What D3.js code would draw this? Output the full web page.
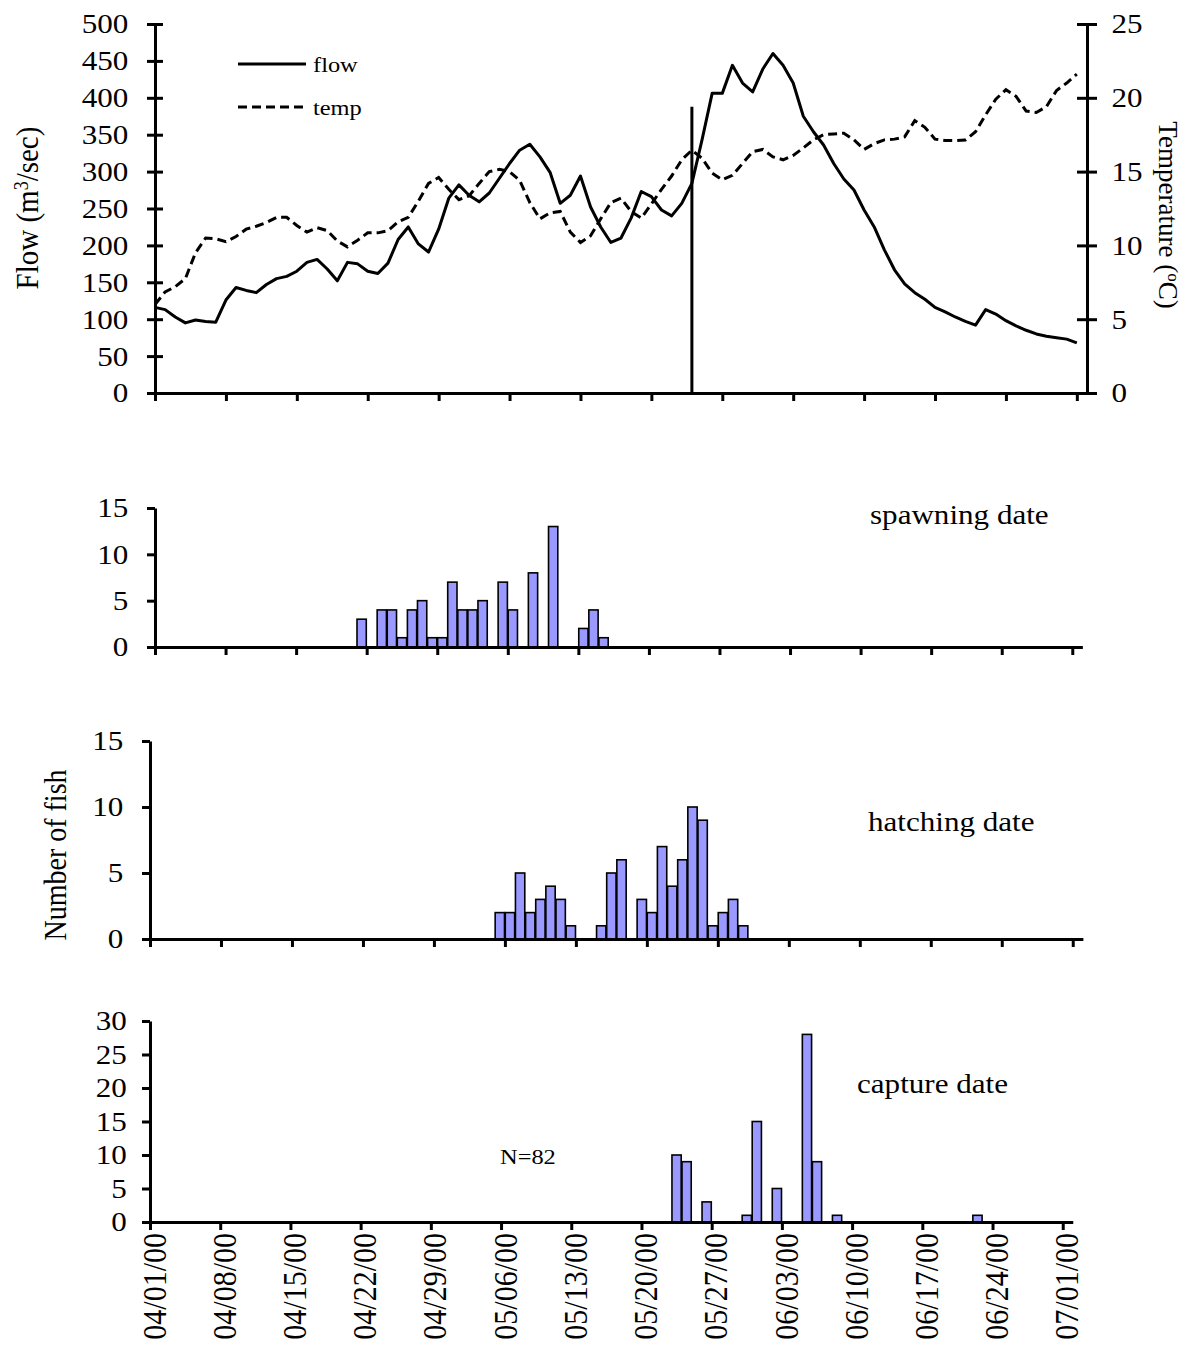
<!DOCTYPE html>
<html>
<head>
<meta charset="utf-8">
<script src="https://cdnjs.cloudflare.com/ajax/libs/d3/7.8.5/d3.min.js"></script>
<style>
  body { margin: 0; background: #fff; }
  text { font-family: "Liberation Serif", "Times New Roman", serif; fill: #000; }
  .axis path, .axis line { stroke: #000; stroke-width: 3; }
</style>
</head>
<body>
<svg id="chart" width="1186" height="1346"></svg>
<script>
// daily values 04/01/00 .. 07/01/00
var flowValues = [116,113,103,95,99,97,96,126,143,139,136,147,155,158,165,177,181,168,152,177,
                  175,165,162,176,208,225,202,191,222,264,282,268,259,271,291,311,329,337,320,299,
                  257,268,294,252,225,204,210,237,273,266,248,240,257,284,343,406,406,444,420,408,
                  439,460,444,420,375,354,336,311,290,275,248,225,194,167,148,136,127,116,110,103,
                  97,92,113,107,98,91,85,80,77,75,73,68];
var tempValues = [6.0,6.85,7.2,7.75,9.5,10.5,10.45,10.25,10.6,11.1,11.3,11.55,11.9,11.9,11.35,10.9,11.2,11.0,10.3,9.9,
                  10.35,10.85,10.85,11.0,11.6,11.9,13.0,14.2,14.6,13.8,13.1,13.35,14.2,15.0,15.15,15.0,14.4,12.9,11.8,12.2,
                  12.3,10.9,10.2,10.65,11.8,12.9,13.2,12.3,11.85,12.8,13.8,14.7,15.8,16.45,15.9,14.9,14.45,14.75,15.55,16.35,
                  16.5,16.0,15.8,16.1,16.6,17.15,17.5,17.55,17.6,17.15,16.5,16.9,17.15,17.2,17.35,18.45,18.0,17.2,17.1,17.1,
                  17.14,17.7,18.85,19.9,20.55,20.1,19.1,19.0,19.4,20.5,21.0,21.6];
var markerDate = "05/24";
var markerFlow = 388;

var spawnDates  = ["04/21","04/23","04/24","04/25","04/26","04/27","04/28","04/29","04/30","05/01",
                   "05/02","05/03","05/05","05/06","05/08","05/10","05/13","05/14","05/15"];
var spawnCounts = [3,4,4,1,4,5,1,1,7,4,4,5,7,4,8,13,2,4,1];

var hatchDates  = ["05/05","05/06","05/07","05/08","05/09","05/10","05/11","05/12","05/15","05/16","05/17",
                   "05/19","05/20","05/21","05/22","05/23","05/24","05/25","05/26","05/27","05/28","05/29"];
var hatchCounts = [2,2,5,2,3,4,3,1,1,5,6,3,2,7,4,6,10,9,1,2,3,1];

var captureDates  = ["05/23","05/24","05/26","05/30","05/31","06/02","06/05","06/06","06/08","06/22"];
var captureCounts = [10,9,3,1,15,5,28,9,1,1];

var tickLabels = ["04/01/00","04/08/00","04/15/00","04/22/00","04/29/00","05/06/00","05/13/00",
                  "05/20/00","05/27/00","06/03/00","06/10/00","06/17/00","06/24/00","07/01/00"];

var SX = 1.11;   // picture text is a bit wider than tall
var FS = 28;
var parse = d3.timeParse("%m/%d/%y");
var parseMD = function(s) { return parse(s + "/00"); };
var day0 = parse("04/01/00"), dayEnd = parse("07/02/00");
var days = d3.timeDay.range(day0, dayEnd);
var tickDates = tickLabels.map(function(s) { return parse(s); });

var svg = d3.select("#chart");

function stext(g, x, y, str, opt) {
  opt = opt || {};
  var sx = opt.noStretch ? 1 : SX;
  var t = g.append("g")
      .attr("transform", "translate(" + x + "," + y + ") scale(" + sx + ",1)" + (opt.rot ? " rotate(" + opt.rot + ")" : ""))
    .append("text")
      .attr("text-anchor", opt.anchor || "start")
      .attr("font-size", opt.size || FS)
      .attr("dy", opt.dy || 0)
      .text(str);
  return t;
}

function styleTicks(g) {
  g.selectAll("text").attr("font-size", FS).attr("transform", "scale(" + SX + ",1)");
}

// ---------- top panel: flow and temperature ----------
var xTop = d3.scaleTime().domain([day0, dayEnd]).range([155, 155 + 92 * 10.13]);
var yFlow = d3.scaleLinear().domain([0, 500]).range([393, 24]);
var yTemp = d3.scaleLinear().domain([0, 25]).range([393, 24]);

var gTop = svg.append("g");

gTop.append("g").attr("class", "axis")
    .attr("transform", "translate(0,393)")
    .call(d3.axisBottom(xTop).tickValues(tickDates).tickSize(8).tickSizeOuter(0).tickFormat(""));

var gl = gTop.append("g").attr("class", "axis")
    .attr("transform", "translate(155,0)")
    .call(d3.axisLeft(yFlow).tickValues(d3.range(0, 501, 50)).tickSizeOuter(0).tickSize(8).tickPadding(16));
gl.selectAll(".tick line").attr("x1", -8).attr("x2", 8);
styleTicks(gl);

var gr = gTop.append("g").attr("class", "axis")
    .attr("transform", "translate(1087,0)")
    .call(d3.axisRight(yTemp).tickValues(d3.range(0, 26, 5)).tickSizeOuter(0).tickSize(10).tickPadding(12));
gr.selectAll(".tick line").attr("x1", -10).attr("x2", 10);
styleTicks(gr);

gTop.append("path")
    .datum(flowValues)
    .attr("fill", "none").attr("stroke", "#000").attr("stroke-width", 3).attr("stroke-linejoin", "round")
    .attr("d", d3.line().x(function(d, i) { return xTop(days[i]); }).y(function(d) { return yFlow(d); }));

gTop.append("path")
    .datum(tempValues)
    .attr("fill", "none").attr("stroke", "#000").attr("stroke-width", 3).attr("stroke-dasharray", "9,5")
    .attr("d", d3.line().x(function(d, i) { return xTop(days[i]); }).y(function(d) { return yTemp(d); }));

gTop.append("line")
    .attr("x1", xTop(parseMD(markerDate))).attr("x2", xTop(parseMD(markerDate)))
    .attr("y1", yFlow(0)).attr("y2", yFlow(markerFlow))
    .attr("stroke", "#000").attr("stroke-width", 3);

// legend
gTop.append("line").attr("x1", 238).attr("x2", 306).attr("y1", 64).attr("y2", 64)
    .attr("stroke", "#000").attr("stroke-width", 3);
gTop.append("line").attr("x1", 238).attr("x2", 306).attr("y1", 107).attr("y2", 107)
    .attr("stroke", "#000").attr("stroke-width", 3).attr("stroke-dasharray", "9,5");
stext(gTop, 313, 72, "flow", {size: 22});
stext(gTop, 313, 115, "temp", {size: 22});

var ft = stext(gTop, 27, 208, "Flow (m", {rot: -90, anchor: "middle", dy: "0.35em", size: 29});
ft.append("tspan").attr("baseline-shift", "super").attr("font-size", 18).text("3");
ft.append("tspan").text("/sec)");

// baseline on the left, glyphs face right
var tt = stext(gTop, 1159, 215, "Temperature (", {rot: 90, anchor: "middle", noStretch: true, size: 27});
tt.append("tspan").attr("baseline-shift", "super").attr("font-size", 17).text("o");
tt.append("tspan").text("C)");

// ---------- bar panels ----------
function barPanel(cfg) {
  var x = d3.scaleTime().domain([day0, dayEnd]).range([cfg.x0, cfg.x0 + 92 * cfg.dw]);
  var y = d3.scaleLinear().domain([0, cfg.max]).range([cfg.y0, cfg.y1]);
  var g = svg.append("g");

  g.selectAll("rect")
      .data(cfg.dates)
    .enter().append("rect")
      .attr("x", function(d) { return x(parseMD(d)) + 0.4; })
      .attr("width", function(d) { return x(d3.timeDay.offset(parseMD(d), 1)) - x(parseMD(d)) - 0.8; })
      .attr("y", function(d, i) { return y(cfg.counts[i]); })
      .attr("height", function(d, i) { return y(0) - y(cfg.counts[i]); })
      .attr("fill", "#9999ff").attr("stroke", "#000").attr("stroke-width", 1.6);

  g.append("g").attr("class", "axis")
      .attr("transform", "translate(0," + cfg.y0 + ")")
      .call(d3.axisBottom(x).tickValues(tickDates).tickSize(8).tickSizeOuter(0).tickFormat(""));

  var ya = g.append("g").attr("class", "axis")
      .attr("transform", "translate(" + cfg.x0 + ",0)")
      .call(d3.axisLeft(y).tickValues(d3.range(0, cfg.max + 1, cfg.step)).tickSize(8).tickSizeOuter(0).tickPadding(cfg.pad));
  styleTicks(ya);

  stext(g, cfg.lx, cfg.ly, cfg.label);
  return {g: g, x: x, y: y};
}

barPanel({dates: spawnDates, counts: spawnCounts, x0: 155, dw: 10.08, y0: 647, y1: 508, max: 15, step: 5,
          pad: 16, label: "spawning date", lx: 870, ly: 524});
var hp = barPanel({dates: hatchDates, counts: hatchCounts, x0: 150, dw: 10.14, y0: 939, y1: 741, max: 15, step: 5,
          pad: 16, label: "hatching date", lx: 868, ly: 831});
var cp = barPanel({dates: captureDates, counts: captureCounts, x0: 150, dw: 10.03, y0: 1222, y1: 1021, max: 30, step: 5,
          pad: 13, label: "capture date", lx: 857, ly: 1093});

stext(cp.g, 500, 1164, "N=82", {size: 22});
stext(hp.g, 55, 855, "Number of fish", {rot: -90, anchor: "middle", dy: "0.35em"});

// rotated date labels under the last panel
cp.g.selectAll(".dlab")
    .data(tickDates)
  .enter().append("g")
    .attr("class", "dlab")
    .attr("transform", function(d) { return "translate(" + (cp.x(d) + 4) + ",1233) scale(" + SX + ",1) rotate(-90)"; })
  .append("text")
    .attr("text-anchor", "end")
    .attr("dy", "0.35em")
    .attr("font-size", 30)
    .text(function(d, i) { return tickLabels[i]; });
</script>
</body>
</html>
